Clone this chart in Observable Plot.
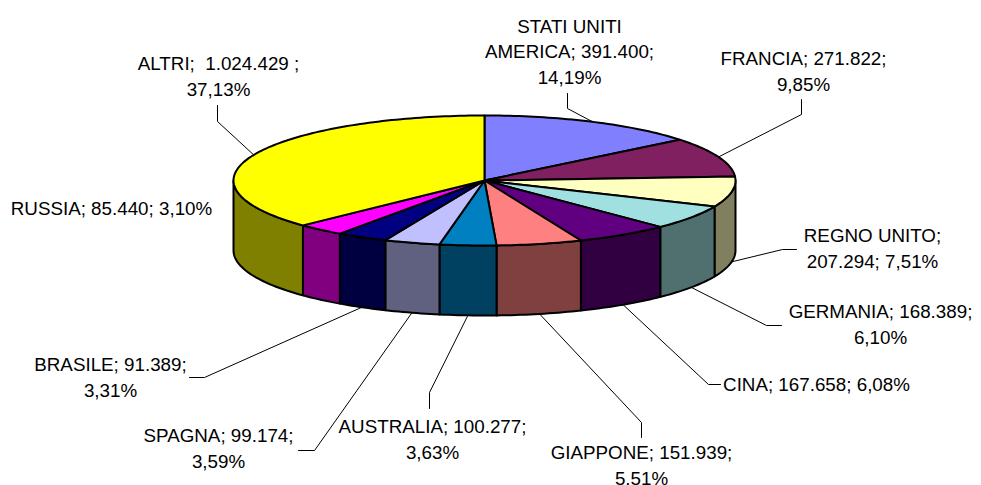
<!DOCTYPE html>
<html>
<head>
<meta charset="utf-8">
<script src="https://cdn.jsdelivr.net/npm/d3@7"></script>
<script src="https://cdn.jsdelivr.net/npm/@observablehq/plot@0.6"></script>
<style>html,body{margin:0;padding:0;background:#fff}svg{display:block}</style>
</head>
<body>
<div id="chart"></div>
<script>
const names = ["STATI UNITI AMERICA","FRANCIA","REGNO UNITO","GERMANIA","CINA","GIAPPONE","AUSTRALIA","SPAGNA","BRASILE","RUSSIA","ALTRI"];
const values = [391400,271822,207294,168389,167658,151939,100277,99174,91389,85440,1024429];
const topColors = ["#8080FF","#802060","#FFFFC0","#A0E0E0","#600080","#FF8080","#0080C0","#C0C0FF","#000080","#FF00FF","#FFFF00"];
const sideColors = ["#404080","#401030","#808060","#507070","#300040","#804040","#004060","#606080","#000040","#800080","#808000"];
const labels = [
  "STATI UNITI\nAMERICA; 391.400;\n14,19%",
  "FRANCIA; 271.822;\n9,85%",
  "REGNO UNITO;\n207.294; 7,51%",
  "GERMANIA; 168.389;\n6,10%",
  "CINA; 167.658; 6,08%",
  "GIAPPONE; 151.939;\n5.51%",
  "AUSTRALIA; 100.277;\n3,63%",
  "SPAGNA; 99.174;\n3,59%",
  "BRASILE; 91.389;\n3,31%",
  "RUSSIA; 85.440; 3,10%",
  "ALTRI;  1.024.429 ;\n37,13%"
];

// Layout of the pie and annotations, in plot units
const pie = {cx: 484, cy: 180, rx: 251, ry: 65, depth: 70};
const labelAt = [[569,49.5],[803,69],[872,246],[880,322.5],[816,382.5],[641,463.5],[432,437],[218,446.5],[110,375.5],[111,206.5],[218,74]];
const elbows = [
  [[567,93],[567,108]],
  [[801,99],[801,114]],
  [[796,249],[782,249]],
  [[781,325],[766,325]],
  [[720,384],[708,384]],
  [[641,437],[641,422]],
  [[429,408],[429,392]],
  [[298,450],[314,450]],
  [[189,377],[204,377]],
  null,
  [[217,105],[217,121]]
];

const total = d3.sum(values);
const rim = (a, dy = 0) => ({x: pie.cx + pie.rx * Math.sin(a), y: pie.cy - pie.ry * Math.cos(a) + dy});
let cum = 0;
const slices = names.map((name, i) => {
  const a0 = cum / total * 2 * Math.PI;
  cum += values[i];
  return {name, i, a0, a1: cum / total * 2 * Math.PI};
});
const arc = (a0, a1, dy = 0) => {
  const n = Math.max(2, Math.ceil((a1 - a0) / 0.02));
  return d3.range(n + 1).map(k => rim(a0 + (a1 - a0) * k / n, dy));
};

const tops = slices.flatMap(s => {
  const hub = {x: pie.cx, y: pie.cy};
  return [hub, ...arc(s.a0, s.a1), hub].map(p => ({...p, key: s.name, color: topColors[s.i]}));
});
const sides = slices.flatMap(s => {
  const a0 = Math.max(s.a0, Math.PI / 2), a1 = Math.min(s.a1, 3 * Math.PI / 2);
  if (a1 <= a0) return [];
  const top = arc(a0, a1), bottom = arc(a0, a1, pie.depth).reverse();
  return [...top, ...bottom, top[0]].map(p => ({...p, key: s.name, color: sideColors[s.i]}));
});
const leaders = slices.flatMap(s => {
  if (!elbows[s.i]) return [];
  const mid = (s.a0 + s.a1) / 2;
  const front = Math.cos(mid) < 0;
  const end = rim(mid, front ? pie.depth : 0);
  return [...elbows[s.i].map(([x, y]) => ({x, y})), end].map(p => ({...p, key: s.name}));
});
const labelRows = slices.map(s => ({x: labelAt[s.i][0], y: labelAt[s.i][1], text: labels[s.i]}));

const polygon = (rows) => Plot.line(rows, {
  x: "x", y: "y", z: "key", fill: "color", stroke: "#000", strokeWidth: 2,
  strokeLinejoin: "round", curve: "linear"
});

const chart = Plot.plot({
  width: 981, height: 485,
  margin: 0,
  style: {background: "#fff"},
  x: {domain: [0, 981], range: [0, 981], axis: null},
  y: {domain: [0, 485], range: [0, 485], axis: null},
  color: {type: "identity"},
  marks: [
    Plot.line(leaders, {x: "x", y: "y", z: "key", stroke: "#000", strokeWidth: 1, curve: "linear"}),
    polygon(sides),
    polygon(tops),
    Plot.text(labelRows, {
      x: "x", y: "y", text: "text", textAnchor: "middle", lineHeight: 1.37,
      fontSize: 18.8, fontFamily: "'Liberation Sans', Arial, sans-serif", fill: "#000"
    })
  ]
});
document.getElementById("chart").append(chart);
</script>
</body>
</html>
